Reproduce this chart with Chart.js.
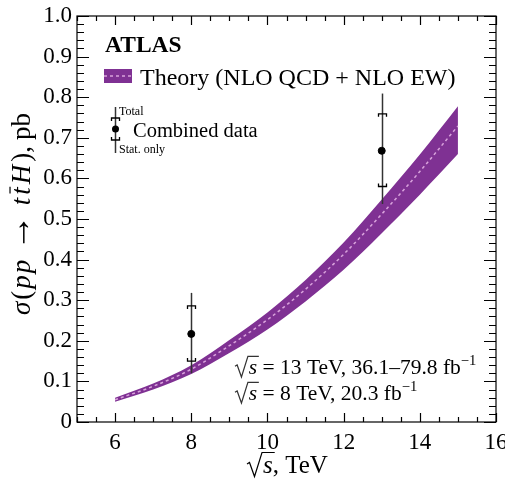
<!DOCTYPE html>
<html>
<head>
<meta charset="utf-8">
<script src="https://cdn.jsdelivr.net/npm/chart.js@4/dist/chart.umd.min.js"></script>
<style>
    html, body { margin: 0; padding: 0; background: #fff; }
    #wrap { width: 505px; height: 481px; }
</style>
</head>
<body>
<div id="wrap"><canvas id="tthChart" width="505" height="481"></canvas></div>
<script>
// Theory band: sqrt(s) in TeV and cross-section in pb
const energies = [6, 7, 8, 9, 10, 11, 12, 13, 14, 15];
const theoryCentral = [0.055, 0.088, 0.130, 0.188, 0.252, 0.327, 0.413, 0.512, 0.617, 0.729];
const theoryUp = [0.060, 0.095, 0.140, 0.202, 0.270, 0.350, 0.442, 0.548, 0.659, 0.778];
const theoryDown = [0.050, 0.080, 0.118, 0.170, 0.228, 0.297, 0.375, 0.465, 0.560, 0.660];

// Combined measurements
const dataEnergies = [8, 13];
const dataValues = [0.217, 0.668];
const totalUp = [0.101, 0.141];
const totalDown = [0.097, 0.131];
const statUp = [0.069, 0.091];
const statDown = [0.067, 0.088];

// Axis ticks
const xTicks = [6, 8, 10, 12, 14, 16];
const yTicks = [0, 0.1, 0.2, 0.3, 0.4, 0.5, 0.6, 0.7, 0.8, 0.9, 1.0];

const PURPLE = '#7f3193';
const PINK = '#d9a3dc';
const SERIF = '"Liberation Serif", "DejaVu Serif", serif';

function pts(xs, ys) {
    return xs.map((x, i) => ({ x: x, y: ys[i] }));
}

// Draw a run of text pieces (italic / superscript / overbar), returns width
function drawRuns(ctx, runs, x, y, size, measureOnly) {
    let cx = x;
    runs.forEach(r => {
        const s = (r.sup ? size * 0.68 : size) * (r.scale || 1);
        ctx.font = (r.it ? 'italic ' : '') + (r.bold ? 'bold ' : '') + s + 'px ' + SERIF;
        const w = ctx.measureText(r.t).width;
        if (!measureOnly) {
            const yy = r.sup ? y - size * 0.42 : y;
            ctx.fillText(r.t, cx, yy);
            if (r.bar) {
                ctx.beginPath();
                ctx.lineWidth = 1.2;
                ctx.moveTo(cx + w * 0.15, y - size * 0.74);
                ctx.lineTo(cx + w * 1.05, y - size * 0.74);
                ctx.stroke();
            }
        }
        cx += w + (r.gap || 0);
    });
    return cx - x;
}

// Radical sign over an italic s, returns width
function drawSqrtS(ctx, x, y, size) {
    ctx.font = 'italic ' + size + 'px ' + SERIF;
    const sw = ctx.measureText('s').width;
    const top = y - size * 0.82;
    ctx.save();
    ctx.lineWidth = 1.2;
    ctx.lineJoin = 'miter';
    ctx.beginPath();
    ctx.moveTo(x, y - size * 0.36);
    ctx.lineTo(x + size * 0.1, y - size * 0.42);
    ctx.lineTo(x + size * 0.3, y + size * 0.14);
    ctx.lineTo(x + size * 0.6, top);
    ctx.lineTo(x + size * 0.6 + sw + size * 0.12, top);
    ctx.stroke();
    ctx.restore();
    ctx.fillText('s', x + size * 0.64, y);
    return size * 0.64 + sw;
}

// bracket-shaped caps marking the statistical-only part
function drawCaps(ctx, px, yTop, yBot) {
    const hw = 4, foot = 3;
    ctx.save();
    ctx.lineWidth = 1.3;
    ctx.strokeStyle = '#000';
    ctx.beginPath();
    ctx.moveTo(px - hw, yTop + foot);
    ctx.lineTo(px - hw, yTop);
    ctx.lineTo(px + hw, yTop);
    ctx.lineTo(px + hw, yTop + foot);
    ctx.moveTo(px - hw, yBot - foot);
    ctx.lineTo(px - hw, yBot);
    ctx.lineTo(px + hw, yBot);
    ctx.lineTo(px + hw, yBot - foot);
    ctx.stroke();
    ctx.restore();
}

const framePlugin = {
    id: 'frame',
    afterDatasetDraw(chart, args) {
        // error bars go on top of the band, under the markers
        if (args.index !== 2) return;
        const ctx = chart.ctx;
        const xs = chart.scales.x, ys = chart.scales.y;
        ctx.save();
        ctx.strokeStyle = '#333';
        ctx.lineWidth = 1.5;
        dataEnergies.forEach((e, i) => {
            const px = Math.round(xs.getPixelForValue(e)) + 0.5;
            const v = dataValues[i];
            const t0 = ys.getPixelForValue(v + totalUp[i]);
            const t1 = ys.getPixelForValue(v - totalDown[i]);
            const s0 = ys.getPixelForValue(v + statUp[i]);
            const s1 = ys.getPixelForValue(v - statDown[i]);
            ctx.beginPath();
            ctx.moveTo(px, t0);
            ctx.lineTo(px, t1);
            ctx.stroke();
            drawCaps(ctx, px, s0, s1);
        });
        ctx.restore();
    },
    afterDraw(chart) {
        const ctx = chart.ctx;
        const a = chart.chartArea;
        const xs = chart.scales.x, ys = chart.scales.y;
        ctx.save();
        ctx.strokeStyle = '#000';
        ctx.lineWidth = 1.2;
        ctx.strokeRect(a.left, a.top, a.right - a.left, a.bottom - a.top);

        // inward ticks on all four sides
        ctx.beginPath();
        for (let v = 5; v <= 16.001; v += 0.5) {
            const px = Math.round(xs.getPixelForValue(v)) + 0.5;
            const major = Math.abs(v / 2 - Math.round(v / 2)) < 1e-6;
            const len = major ? 9 : 5;
            ctx.moveTo(px, a.bottom);
            ctx.lineTo(px, a.bottom - len);
            ctx.moveTo(px, a.top);
            ctx.lineTo(px, a.top + len);
        }
        for (let k = 0; k <= 50; k++) {
            const v = k * 0.02;
            const py = Math.round(ys.getPixelForValue(v)) + 0.5;
            const len = k % 5 === 0 ? 12 : 7;
            ctx.moveTo(a.left, py);
            ctx.lineTo(a.left + len, py);
            ctx.moveTo(a.right, py);
            ctx.lineTo(a.right - len, py);
        }
        ctx.stroke();

        ctx.fillStyle = '#000';
        ctx.textBaseline = 'alphabetic';
        ctx.textAlign = 'left';

        // x title
        const xt = 25;
        let xx = 247;
        xx += drawSqrtS(ctx, xx, 473, xt);
        ctx.font = xt + 'px ' + SERIF;
        ctx.fillText(', TeV', xx, 473);

        // y title
        const yRuns = [
            { t: 'σ', it: true, gap: 2 }, { t: '(', gap: 2 }, { t: 'p', it: true, gap: 2 },
            { t: 'p', it: true, gap: 9 }, { t: '→', scale: 1.35, gap: 9 },
            { t: 't', it: true, gap: 3 }, { t: 't', it: true, bar: true, gap: 3 }, { t: 'H', it: true, gap: 3 },
            { t: '),', gap: 6 }, { t: 'pb' }
        ];
        const ysz = 27;
        ctx.save();
        ctx.translate(30, 214);
        ctx.rotate(-Math.PI / 2);
        const yw = drawRuns(ctx, yRuns, 0, 0, ysz, true);
        drawRuns(ctx, yRuns, -yw / 2, 0, ysz, false);
        ctx.restore();

        // ATLAS label
        ctx.font = 'bold 23.5px ' + SERIF;
        ctx.fillText('ATLAS', 105, 52);

        // legend: theory band
        ctx.fillStyle = PURPLE;
        ctx.fillRect(104, 69, 28, 14);
        ctx.strokeStyle = PINK;
        ctx.lineWidth = 1.5;
        ctx.setLineDash([3, 3]);
        ctx.beginPath();
        ctx.moveTo(104, 76);
        ctx.lineTo(132, 76);
        ctx.stroke();
        ctx.setLineDash([]);
        ctx.fillStyle = '#000';
        ctx.font = '24px ' + SERIF;
        ctx.fillText('Theory (NLO QCD + NLO EW)', 140, 85);

        // legend: data marker
        ctx.strokeStyle = '#333';
        ctx.lineWidth = 1.5;
        ctx.beginPath();
        ctx.moveTo(115.5, 107);
        ctx.lineTo(115.5, 153);
        ctx.stroke();
        drawCaps(ctx, 115.5, 118, 140);
        ctx.fillStyle = '#000';
        ctx.beginPath();
        ctx.arc(115.5, 129, 3.5, 0, Math.PI * 2);
        ctx.fill();
        ctx.font = '12px ' + SERIF;
        ctx.fillText('Total', 119, 115);
        ctx.fillText('Stat. only', 119, 153);
        ctx.font = '20.5px ' + SERIF;
        ctx.fillText('Combined data', 133, 137);

        // energies and luminosities
        const es = 21.5;
        let lx = 235;
        lx += drawSqrtS(ctx, lx, 374, es);
        drawRuns(ctx, [{ t: ' = 13 TeV, 36.1–79.8 fb' }, { t: '−1', sup: true }], lx, 374, es, false);
        lx = 235;
        lx += drawSqrtS(ctx, lx, 400, es);
        drawRuns(ctx, [{ t: ' = 8 TeV, 20.3 fb' }, { t: '−1', sup: true }], lx, 400, es, false);
        ctx.restore();
    }
};

const ctxEl = document.getElementById('tthChart');
new Chart(ctxEl, {
    type: 'line',
    data: {
        datasets: [{
            label: 'Theory up',
            data: pts(energies, theoryUp),
            borderWidth: 0,
            pointRadius: 0,
            backgroundColor: PURPLE,
            fill: '+1',
            order: 4,
            cubicInterpolationMode: 'monotone'
        }, {
            label: 'Theory down',
            data: pts(energies, theoryDown),
            borderWidth: 0,
            pointRadius: 0,
            fill: false,
            order: 3,
            cubicInterpolationMode: 'monotone'
        }, {
            label: 'Theory (NLO QCD + NLO EW)',
            data: pts(energies, theoryCentral),
            borderColor: PINK,
            borderWidth: 1.5,
            borderDash: [3, 3],
            pointRadius: 0,
            fill: false,
            order: 2,
            cubicInterpolationMode: 'monotone'
        }, {
            label: 'Combined data',
            type: 'scatter',
            data: pts(dataEnergies, dataValues),
            backgroundColor: '#000',
            borderColor: '#000',
            pointRadius: 3.5,
            order: 1,
            showLine: false
        }]
    },
    options: {
        responsive: false,
        animation: false,
        events: [],
        layout: { padding: { top: 16, right: 9, left: 0, bottom: 0 } },
        plugins: {
            legend: { display: false },
            tooltip: { enabled: false },
            title: { display: false }
        },
        scales: {
            x: {
                type: 'linear',
                min: 5,
                max: 16,
                grid: { display: false, drawTicks: false },
                border: { display: false },
                afterBuildTicks: s => { s.ticks = xTicks.map(v => ({ value: v })); },
                afterFit: s => { s.height = 59; s.paddingLeft = 0; s.paddingRight = 0; },
                ticks: {
                    padding: 7,
                    maxRotation: 0,
                    autoSkip: false,
                    color: '#000',
                    font: { family: SERIF, size: 23 },
                    callback: v => String(v)
                }
            },
            y: {
                type: 'linear',
                min: 0,
                max: 1,
                grid: { display: false, drawTicks: false },
                border: { display: false },
                afterBuildTicks: s => { s.ticks = yTicks.map(v => ({ value: v })); },
                afterFit: s => { s.width = 77; s.paddingTop = 0; s.paddingBottom = 0; },
                ticks: {
                    padding: 5,
                    autoSkip: false,
                    color: '#000',
                    font: { family: SERIF, size: 23 },
                    callback: v => (v === 0 ? '0' : v.toFixed(1))
                }
            }
        }
    },
    plugins: [framePlugin]
});
</script>
</body>
</html>
